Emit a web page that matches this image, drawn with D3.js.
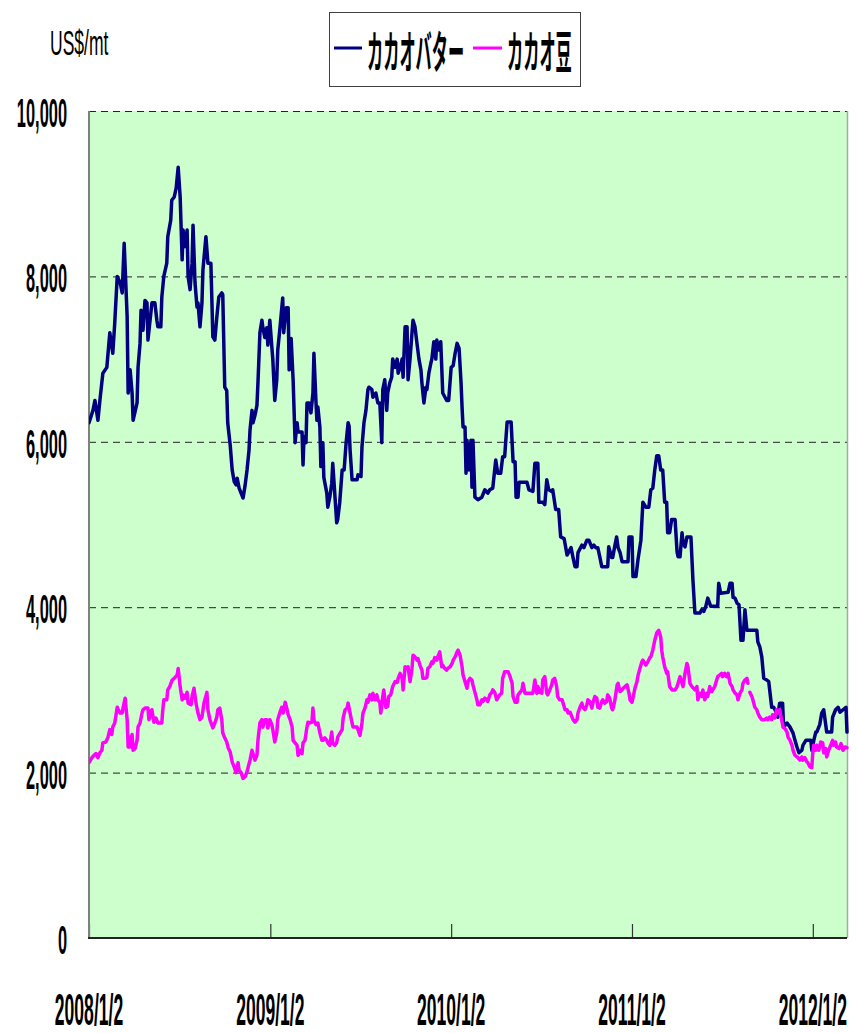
<!DOCTYPE html>
<html>
<head>
<meta charset="utf-8">
<script src="https://cdn.jsdelivr.net/npm/d3@7"></script>
<style>
  html, body { margin: 0; padding: 0; background: #ffffff; }
  svg { display: block; }
</style>
</head>
<body>
<div id="chart"></div>
<script>
// ---- data: cocoa butter (US$/mt) ----
const butterDates = [
"2008-01-02","2008-01-10","2008-01-14","2008-01-20","2008-01-24","2008-01-30","2008-02-07","2008-02-13","2008-02-19","2008-02-23",
"2008-02-28","2008-03-05","2008-03-09","2008-03-13","2008-03-19","2008-03-21","2008-03-25","2008-03-29","2008-03-31","2008-04-08",
"2008-04-10","2008-04-14","2008-04-16","2008-04-20","2008-04-24","2008-04-28","2008-04-30","2008-05-08","2008-05-14","2008-05-18",
"2008-05-20","2008-05-26","2008-05-28","2008-06-01","2008-06-07","2008-06-09","2008-06-15","2008-06-17","2008-06-22","2008-06-26",
"2008-06-30","2008-07-04","2008-07-08","2008-07-10","2008-07-14","2008-07-18","2008-07-20","2008-07-24","2008-07-28","2008-07-30",
"2008-08-03","2008-08-07","2008-08-09","2008-08-13","2008-08-17","2008-08-19","2008-08-25","2008-08-29","2008-09-04","2008-09-08",
"2008-09-12","2008-09-16","2008-09-20","2008-09-26","2008-09-28","2008-10-02","2008-10-06","2008-10-08","2008-10-13","2008-10-17",
"2008-10-21","2008-10-25","2008-10-27","2008-10-31","2008-11-04","2008-11-08","2008-11-12","2008-11-16","2008-11-20","2008-11-22",
"2008-11-26","2008-11-28","2008-12-02","2008-12-06","2008-12-08","2008-12-12","2008-12-16","2008-12-18","2008-12-22","2008-12-26",
"2008-12-28","2009-01-01","2009-01-05","2009-01-07","2009-01-11","2009-01-15","2009-01-17","2009-01-21","2009-01-27","2009-01-29",
"2009-02-03","2009-02-07","2009-02-09","2009-02-13","2009-02-17","2009-02-21","2009-02-25","2009-02-27","2009-03-07","2009-03-09",
"2009-03-11","2009-03-15","2009-03-17","2009-03-21","2009-03-25","2009-03-29","2009-03-31","2009-04-04","2009-04-06","2009-04-08",
"2009-04-12","2009-04-14","2009-04-18","2009-04-20","2009-04-26","2009-04-28","2009-05-02","2009-05-06","2009-05-08","2009-05-12",
"2009-05-16","2009-05-18","2009-05-22","2009-05-27","2009-05-31","2009-06-04","2009-06-08","2009-06-10","2009-06-12","2009-06-16",
"2009-06-26","2009-06-28","2009-07-04","2009-07-06","2009-07-10","2009-07-14","2009-07-18","2009-07-20","2009-07-26","2009-07-28",
"2009-08-03","2009-08-07","2009-08-11","2009-08-15","2009-08-17","2009-08-21","2009-08-25","2009-08-27","2009-08-31","2009-09-04",
"2009-09-06","2009-09-11","2009-09-15","2009-09-17","2009-09-21","2009-09-25","2009-09-27","2009-10-01","2009-10-05","2009-10-07",
"2009-10-11","2009-10-15","2009-10-17","2009-10-21","2009-10-25","2009-10-29","2009-11-02","2009-11-04","2009-11-08","2009-11-12",
"2009-11-14","2009-11-18","2009-11-22","2009-11-24","2009-11-28","2009-12-02","2009-12-04","2009-12-08","2009-12-12","2009-12-14",
"2009-12-16","2009-12-24","2009-12-28","2010-01-02","2010-01-06","2010-01-10","2010-01-14","2010-01-18","2010-01-22","2010-01-24",
"2010-01-26","2010-01-30","2010-02-01","2010-02-03","2010-02-07","2010-02-11","2010-02-13","2010-02-15","2010-02-19","2010-02-25",
"2010-03-05","2010-03-11","2010-03-17","2010-03-21","2010-03-27","2010-04-02","2010-04-06","2010-04-12","2010-04-16","2010-04-20",
"2010-04-25","2010-05-03","2010-05-07","2010-05-11","2010-05-13","2010-05-17","2010-05-19","2010-06-04","2010-06-08","2010-06-16",
"2010-06-20","2010-06-26","2010-06-28","2010-07-06","2010-07-10","2010-07-14","2010-07-18","2010-07-24","2010-07-26","2010-08-01",
"2010-08-07","2010-08-11","2010-08-18","2010-08-24","2010-09-01","2010-09-05","2010-09-09","2010-09-13","2010-09-15","2010-09-23",
"2010-09-27","2010-10-03","2010-10-07","2010-10-13","2010-10-17","2010-10-21","2010-10-25","2010-10-29","2010-11-02","2010-11-14",
"2010-11-16","2010-11-22","2010-11-24","2010-11-28","2010-12-02","2010-12-05","2010-12-09","2010-12-13","2010-12-25","2010-12-27",
"2011-01-02","2011-01-04","2011-01-10","2011-01-14","2011-01-20","2011-01-24","2011-01-30","2011-02-05","2011-02-09","2011-02-13",
"2011-02-17","2011-02-21","2011-02-25","2011-03-01","2011-03-05","2011-03-09","2011-03-13","2011-03-15","2011-03-19","2011-03-23",
"2011-03-30","2011-04-03","2011-04-05","2011-04-09","2011-04-13","2011-04-15","2011-04-19","2011-04-23","2011-05-01","2011-05-05",
"2011-05-09","2011-05-19","2011-05-23","2011-05-27","2011-05-31","2011-06-04","2011-06-10","2011-06-24","2011-06-26","2011-06-30",
"2011-07-15","2011-07-19","2011-07-23","2011-07-25","2011-07-29","2011-08-02","2011-08-06","2011-08-10","2011-08-14","2011-08-18",
"2011-08-22","2011-09-11","2011-09-13","2011-09-17","2011-09-21","2011-09-25","2011-10-01","2011-10-05","2011-10-11","2011-10-15",
"2011-10-21","2011-10-23","2011-10-27","2011-11-02","2011-11-04","2011-11-11","2011-11-17","2011-11-23","2011-11-27","2011-12-01",
"2011-12-05","2011-12-11","2011-12-13","2011-12-19","2011-12-29","2011-12-31","2012-01-04","2012-01-08","2012-01-10","2012-01-16",
"2012-01-20","2012-01-24","2012-01-30","2012-02-09","2012-02-11","2012-02-17","2012-02-22","2012-02-26","2012-03-09","2012-03-11"
];
const butterValues = [
6230,6380,6500,6260,6500,6830,6900,7320,7070,7440,
8000,7920,7800,8400,7510,6590,6870,6590,6260,6470,
6900,7190,7590,7350,7710,7680,7230,7680,7680,7470,
7390,7390,7750,8000,8160,8480,8680,8920,8960,9070,
9320,8960,8200,8560,8360,8560,8000,7840,8160,8620,
7920,7630,7680,7390,7680,8080,8480,8160,8160,7270,
7230,7510,7750,7800,7780,6660,6620,6230,5960,5660,
5520,5480,5560,5440,5380,5320,5470,5660,5900,6140,
6380,6230,6320,6440,6710,7320,7470,7380,7260,7380,
7170,7470,7150,7000,6500,6750,7110,7350,7740,7320,
7620,7620,6870,7250,6750,5990,6230,6120,6120,5720,
6060,5990,6470,6470,6350,6590,7070,6500,6260,6420,
6180,5700,5990,5570,5380,5210,5330,5500,5740,5380,
5020,5060,5260,5660,5660,5990,6230,6190,5900,5540,
5540,5600,5580,5940,6230,6380,6630,6660,6630,6540,
6590,6470,6470,5990,6630,6750,6380,6590,6710,6780,
7000,6900,7000,6830,6900,7000,6780,7390,7390,6750,
7000,7320,7470,7390,7190,7000,6870,6710,6470,6660,
6630,6830,6950,7000,7210,7000,7230,7110,7210,6900,
6590,6500,6500,6900,6920,7070,7190,7130,6710,6420,
6180,6180,5620,6020,5660,6020,5450,6020,5330,5300,
5330,5420,5380,5420,5440,5780,5620,5620,5820,5820,
6240,6240,5760,5760,5330,5330,5510,5510,5420,5400,
5740,5740,5270,5270,5240,5540,5420,5400,5420,5180,
5180,4850,4830,4630,4720,4600,4490,4490,4660,4750,
4720,4810,4810,4720,4750,4720,4720,4610,4490,4490,
4730,4600,4600,4730,4850,4720,4660,4550,4550,4850,
4850,4370,4370,4570,4810,5270,5210,5210,5420,5440,
5660,5830,5830,5660,5660,5270,5270,4900,4900,5060,
5060,4670,4610,4610,4900,4780,4730,4850,4850,4330,
3930,3930,3970,3950,4010,4110,4010,4010,4290,4170,
4180,4290,4290,4120,4110,4050,4030,3600,3600,3970,
3720,3720,3580,3520,3400,3140,3120,3100,2790,2790,
2720,2670,2840,2840,2550,2600,2550,2480,2390,2310,
2240,2270,2330,2390,2390,2270,2390,2490,2490,2580,
2720,2760,2490,2490,2670,2760,2790,2730,2790,2490
];

// ---- data: cocoa beans (US$/mt); null marks a missing quote ----
const beanDates = [
"2008-01-02","2008-01-08","2008-01-12","2008-01-16","2008-01-20","2008-01-24","2008-01-28","2008-01-30","2008-02-05","2008-02-09",
"2008-02-13","2008-02-17","2008-02-19","2008-02-23","2008-02-28","2008-03-01","2008-03-05","2008-03-09","2008-03-11","2008-03-15",
"2008-03-19","2008-03-21","2008-03-23","2008-03-25","2008-03-29","2008-03-31","2008-04-04","2008-04-08","2008-04-10","2008-04-14",
"2008-04-18","2008-04-20","2008-04-24","2008-04-30","2008-05-02","2008-05-06","2008-05-08","2008-05-12","2008-05-16","2008-05-20",
"2008-05-28","2008-05-30","2008-06-01","2008-06-07","2008-06-09","2008-06-13","2008-06-18","2008-06-22","2008-06-28","2008-06-30",
"2008-07-04","2008-07-08","2008-07-10","2008-07-14","2008-07-18","2008-07-20","2008-07-26","2008-07-28","2008-08-01","2008-08-05",
"2008-08-09","2008-08-13","2008-08-17","2008-08-21","2008-08-27","2008-08-29","2008-09-02","2008-09-08","2008-09-12","2008-09-16",
"2008-09-18","2008-09-22","2008-09-26","2008-09-28","2008-10-02","2008-10-06","2008-10-09","2008-10-13","2008-10-17","2008-10-21",
"2008-10-25","2008-10-29","2008-10-31","2008-11-04","2008-11-08","2008-11-12","2008-11-16","2008-11-18","2008-11-22","2008-11-26",
"2008-11-28","2008-12-02","2008-12-06","2008-12-08","2008-12-12","2008-12-16","2008-12-18","2008-12-22","2008-12-26","2008-12-28",
"2009-01-01","2009-01-05","2009-01-07","2009-01-11","2009-01-15","2009-01-17","2009-01-21","2009-01-25","2009-01-28","2009-02-01",
"2009-02-05","2009-02-07","2009-02-11","2009-02-15","2009-02-17","2009-02-21","2009-02-25","2009-02-27","2009-03-03","2009-03-07",
"2009-03-09","2009-03-13","2009-03-17","2009-03-19","2009-03-23","2009-03-27","2009-03-29","2009-03-31","2009-04-04","2009-04-08",
"2009-04-12","2009-04-16","2009-04-18","2009-04-22","2009-04-26","2009-04-28","2009-05-02","2009-05-06","2009-05-08","2009-05-12",
"2009-05-16","2009-05-18","2009-05-23","2009-05-27","2009-05-29","2009-06-02","2009-06-06","2009-06-08","2009-06-12","2009-06-16",
"2009-06-18","2009-06-26","2009-06-28","2009-07-02","2009-07-06","2009-07-08","2009-07-12","2009-07-16","2009-07-18","2009-07-22",
"2009-07-26","2009-07-28","2009-08-01","2009-08-05","2009-08-07","2009-08-11","2009-08-13","2009-08-17","2009-08-19","2009-08-23",
"2009-08-27","2009-08-29","2009-09-02","2009-09-06","2009-09-11","2009-09-15","2009-09-17","2009-09-21","2009-09-25","2009-09-27",
"2009-10-01","2009-10-05","2009-10-07","2009-10-11","2009-10-15","2009-10-17","2009-10-21","2009-10-25","2009-10-27","2009-10-31",
"2009-11-04","2009-11-06","2009-11-10","2009-11-14","2009-11-16","2009-11-20","2009-11-24","2009-11-26","2009-11-30","2009-12-04",
"2009-12-06","2009-12-10","2009-12-14","2009-12-16","2009-12-20","2009-12-24","2009-12-26","2009-12-31","2010-01-04","2010-01-06",
"2010-01-10","2010-01-14","2010-01-16","2010-01-20","2010-01-24","2010-01-26","2010-01-30","2010-02-03","2010-02-05","2010-02-09",
"2010-02-13","2010-02-15","2010-02-19","2010-02-23","2010-02-25","2010-03-01","2010-03-05","2010-03-07","2010-03-11","2010-03-15",
"2010-03-17","2010-03-21","2010-03-25","2010-03-27","2010-03-31","2010-04-04","2010-04-06","2010-04-10","2010-04-14","2010-04-16",
"2010-04-20","2010-04-27","2010-05-01","2010-05-05","2010-05-07","2010-05-11","2010-05-15","2010-05-17","2010-05-21","2010-05-25",
"2010-05-27","2010-05-31","2010-06-16","2010-06-20","2010-06-24","2010-06-26","2010-06-30","2010-07-04","2010-07-06","2010-07-10",
"2010-07-14","2010-07-16","2010-07-20","2010-07-24","2010-07-26","2010-07-30","2010-08-03","2010-08-05","2010-08-09","2010-08-14",
"2010-08-16","2010-08-20","2010-08-24","2010-08-26","2010-08-30","2010-09-03","2010-09-05","2010-09-09","2010-09-13","2010-09-15",
"2010-09-19","2010-09-23","2010-09-25","2010-09-29","2010-10-03","2010-10-05","2010-10-09","2010-10-13","2010-10-15","2010-10-19",
"2010-10-23","2010-10-25","2010-10-29","2010-11-02","2010-11-04","2010-11-08","2010-11-12","2010-11-14","2010-11-18","2010-11-22",
"2010-11-24","2010-11-28","2010-12-03","2010-12-05","2010-12-09","2010-12-13","2010-12-15","2010-12-19","2010-12-23","2010-12-27",
"2010-12-29","2011-01-02","2011-01-04","2011-01-08","2011-01-12","2011-01-14","2011-01-18","2011-01-22","2011-01-24","2011-01-30",
"2011-02-03","2011-02-07","2011-02-09","2011-02-13","2011-02-17","2011-02-21","2011-02-25","2011-03-01","2011-03-03","2011-03-05",
"2011-03-09","2011-03-13","2011-03-15","2011-03-19","2011-03-24","2011-03-30","2011-04-03","2011-04-05","2011-04-09","2011-04-13",
"2011-04-15","2011-04-19","2011-04-23","2011-04-25","2011-04-29","2011-05-03","2011-05-09","2011-05-13","2011-05-15","2011-05-19",
"2011-05-23","2011-05-25","2011-05-29","2011-06-02","2011-06-04","2011-06-08","2011-06-12","2011-06-14","2011-06-18","2011-06-22",
"2011-06-24","2011-06-28","2011-07-02","2011-07-04","2011-07-08","2011-07-12","2011-07-15","2011-07-19","2011-07-23","2011-07-25",
"2011-07-29","2011-08-02","2011-08-04","2011-08-08","2011-08-12","2011-08-14","2011-08-18","2011-08-22","2011-08-24","2011-08-26",
"2011-08-28","2011-09-01","2011-09-03","2011-09-07","2011-09-11","2011-09-13","2011-09-17","2011-09-21","2011-09-27","2011-10-01",
"2011-10-03","2011-10-07","2011-10-11","2011-10-13","2011-10-17","2011-10-21","2011-10-23","2011-10-27","2011-10-31","2011-11-03",
"2011-11-07","2011-11-11","2011-11-13","2011-11-17","2011-11-21","2011-11-23","2011-11-27","2011-12-01","2011-12-03","2011-12-07",
"2011-12-11","2011-12-13","2011-12-17","2011-12-21","2011-12-23","2011-12-27","2011-12-31","2012-01-02","2012-01-04","2012-01-08",
"2012-01-10","2012-01-14","2012-01-18","2012-01-22","2012-01-24","2012-01-28","2012-01-30","2012-02-03","2012-02-07","2012-02-11",
"2012-02-13","2012-02-17","2012-02-19","2012-02-24","2012-02-28","2012-03-03","2012-03-07","2012-03-11"
];
const beanValues = [
2120,2180,2210,2230,2180,2240,2270,2360,2370,2420,
2520,2460,2550,2600,2790,2760,2720,2720,2790,2900,
2640,2310,2430,2310,2460,2270,2290,2390,2550,2600,
2720,2760,2780,2780,2640,2730,2760,2610,2660,2600,
2600,2760,2880,2880,3000,3040,3120,3140,3180,3260,
3040,2880,2940,2900,2970,2840,2820,2920,3020,2840,
2720,2640,2670,2840,2970,2760,2640,2540,2600,2670,
2760,2780,2640,2480,2420,2370,2300,2250,2130,2070,
2000,2120,2030,2000,1930,1950,2010,2060,2150,2270,
2230,2150,2210,2390,2600,2640,2550,2640,2640,2540,
2640,2580,2520,2370,2480,2640,2720,2790,2720,2850,
2760,2700,2640,2550,2390,2360,2330,2210,2270,2230,
2360,2390,2550,2610,2600,2610,2780,2640,2580,2600,
2480,2390,2390,2420,2390,2360,2330,2490,2360,2330,
2360,2430,2480,2520,2660,2760,2780,2840,2720,2600,
2550,2550,2520,2450,2600,2720,2780,2880,2850,2940,
2880,2960,2880,2940,2880,2850,2720,2920,3000,2790,
2800,2920,2940,3040,3100,3090,3140,3200,3140,3000,
3280,3260,3280,3100,3260,3420,3400,3360,3380,3300,
3240,3140,3140,3150,3260,3280,3340,3320,3390,3360,
3400,3460,3280,3300,3260,3240,3260,3280,3320,3360,
3400,3460,3480,3420,3280,3180,3100,3020,3100,3140,
3120,3060,2970,2880,2820,2820,2880,2860,2900,2880,
2860,2940,2970,3000,2970,2880,2900,2940,2960,3140,
3220,3220,3160,3080,2920,2850,2850,2940,2970,3000,
3080,2960,2960,3120,2960,3040,2970,2960,3120,3160,
2960,2940,3000,3060,3120,3140,3040,2920,2880,2880,
2840,2760,2760,2720,2730,2670,2640,2610,2640,2720,
2790,2840,2790,2760,2820,2880,2860,2780,2840,2920,
2900,2790,2780,2860,2880,2840,2860,2940,2900,2780,
2760,2860,3060,3080,2980,3000,3020,3040,3060,2960,
2880,2850,2900,3020,3100,3170,3260,3340,3360,3300,
3340,3390,3400,3480,3600,3690,3720,3640,3480,3400,
3280,3200,3220,3040,3000,3000,3040,3080,3160,3080,
3040,3200,3320,3280,3080,3040,3000,3040,2880,2960,
2920,3000,2880,2960,2920,3040,2980,3000,3040,3120,
3160,3180,3200,3160,3200,3160,3200,3080,3040,3000,
2960,2940,2880,2960,3000,3080,3120,3140,3080,null,
2970,2920,2880,2790,2760,2720,2670,2640,2640,2660,
2640,2670,2640,2700,2660,2760,2720,2760,2640,2550,
2530,2490,2430,2390,2330,2270,2210,2190,2180,2150,
2190,2150,2180,2130,2120,2070,2060,2240,2330,2270,
2330,2270,2370,2360,2240,2290,2190,2270,2330,2390,
2330,2370,2310,2290,2350,2270,2310,2300
];

const seriesNames = ["カカオバター", "カカオ豆"];
const seriesColors = ["#000080", "#ff00ff"];
const yTickValues = [0, 2000, 4000, 6000, 8000, 10000];
const xTickDates = ["2008-01-02", "2009-01-02", "2010-01-02", "2011-01-02", "2012-01-02"];
const xDomain = ["2008-01-02", "2012-03-11"];
const unitLabel = "US$/mt";

// ---- layout ----
const W = 856, H = 1033;
const plot = { left: 89, right: 847, top: 111, bottom: 938 };
const numFont = "'Liberation Sans', Arial, sans-serif";
const jpFont = "'Noto Sans CJK JP', 'Noto Sans CJK SC', sans-serif";

const parse = d3.utcParse("%Y-%m-%d");
const butter = butterDates.map((d, i) => ({ date: parse(d), value: butterValues[i] }));
const beans = beanDates.map((d, i) => ({ date: parse(d), value: beanValues[i] }));

const x = d3.scaleUtc()
  .domain(xDomain.map(parse))
  .range([plot.left, plot.right]);
const y = d3.scaleLinear()
  .domain([0, 10000])
  .range([plot.bottom, plot.top]);

const svg = d3.select("#chart").append("svg")
  .attr("width", W).attr("height", H)
  .attr("viewBox", `0 0 ${W} ${H}`);

// horizontally condensed text
function condensed(parent, px, py, str, o) {
  const g = parent.append("g").attr("transform", `translate(${px},${py}) scale(${o.sx},1)`);
  g.append("text")
    .attr("text-anchor", o.anchor || "start")
    .style("font-family", o.family)
    .style("font-size", o.size + "px")
    .style("font-weight", o.weight || "normal")
    .attr("fill", "#000")
    .text(str);
  return g;
}

// plot background
svg.append("rect")
  .attr("x", plot.left).attr("y", plot.top)
  .attr("width", plot.right - plot.left).attr("height", plot.bottom - plot.top)
  .attr("fill", "#ccffcc");

// dashed gridlines
svg.append("g").selectAll("line")
  .data(yTickValues.filter(v => v > 0))
  .join("line")
  .attr("x1", plot.left).attr("x2", plot.right)
  .attr("y1", d => y(d) + 0.5).attr("y2", d => y(d) + 0.5)
  .attr("stroke", "#222")
  .attr("stroke-width", 1)
  .attr("stroke-dasharray", "7,5");

// right frame edge
svg.append("line")
  .attr("x1", plot.right + 0.5).attr("x2", plot.right + 0.5)
  .attr("y1", plot.top).attr("y2", plot.bottom)
  .attr("stroke", "#a8a8a8").attr("stroke-width", 1.5);

// x axis ticks (inward)
const xAxis = d3.axisBottom(x)
  .tickValues(xTickDates.map(parse))
  .tickSize(-14)
  .tickSizeOuter(0)
  .tickFormat("");
const gx = svg.append("g").attr("transform", `translate(0,${plot.bottom})`).call(xAxis);
gx.select(".domain").remove();
gx.selectAll(".tick line").attr("stroke", "#333").attr("stroke-width", 1.2);

// axis lines
svg.append("line")
  .attr("x1", plot.left).attr("x2", plot.left)
  .attr("y1", plot.top).attr("y2", plot.bottom)
  .attr("stroke", "#808080").attr("stroke-width", 2);
svg.append("line")
  .attr("x1", plot.left - 1).attr("x2", plot.right)
  .attr("y1", plot.bottom).attr("y2", plot.bottom)
  .attr("stroke", "#222").attr("stroke-width", 2);

// y tick labels
const fmtY = d3.format(",");
yTickValues.forEach(v => {
  condensed(svg, 67, y(v) + 16, fmtY(v), { sx: 0.41, size: 40, anchor: "end", family: numFont, weight: "bold" });
});

// x tick labels
const fmtX = d3.utcFormat("%Y/%-m/%-d");
xTickDates.map(parse).forEach(d => {
  condensed(svg, x(d), 1025, fmtX(d), { sx: 0.39, size: 45, anchor: "middle", family: numFont, weight: "bold" });
});

// unit label
condensed(svg, 50, 55, unitLabel, { sx: 0.5, size: 35, anchor: "start", family: numFont });

// series lines
const line = d3.line()
  .defined(d => d.value != null)
  .x(d => x(d.date))
  .y(d => y(d.value));

svg.append("clipPath").attr("id", "plotclip")
  .append("rect")
  .attr("x", plot.left).attr("y", plot.top - 4)
  .attr("width", plot.right - plot.left + 2).attr("height", plot.bottom - plot.top + 4);

const gLines = svg.append("g").attr("clip-path", "url(#plotclip)");
[butter, beans].forEach((s, i) => {
  gLines.append("path")
    .datum(s)
    .attr("fill", "none")
    .attr("stroke", seriesColors[i])
    .attr("stroke-width", 3.5)
    .attr("stroke-linejoin", "round")
    .attr("stroke-linecap", "round")
    .attr("d", line);
});

// legend
const lg = svg.append("g");
lg.append("rect")
  .attr("x", 329.5).attr("y", 12.5)
  .attr("width", 251).attr("height", 74)
  .attr("fill", "#fff")
  .attr("stroke", "#404040").attr("stroke-width", 1);
const legendItems = [
  { sx0: 334, sx1: 362, tx: 367 },
  { sx0: 473, sx1: 502, tx: 507 }
];
legendItems.forEach((it, i) => {
  lg.append("line")
    .attr("x1", it.sx0).attr("x2", it.sx1)
    .attr("y1", 48).attr("y2", 48)
    .attr("stroke", seriesColors[i]).attr("stroke-width", 3);
  condensed(lg, it.tx, 69, seriesNames[i], { sx: 0.36, size: 45, anchor: "start", family: jpFont, weight: "bold" });
});
</script>
</body>
</html>
